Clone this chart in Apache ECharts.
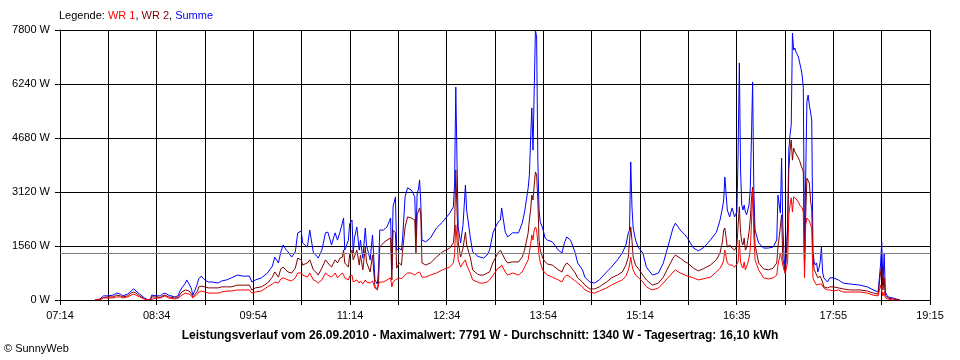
<!DOCTYPE html>
<html><head><meta charset="utf-8">
<script src="https://cdn.jsdelivr.net/npm/echarts@6/dist/echarts.min.js"></script>
<style>html,body{margin:0;padding:0;background:#fff}#c{width:960px;height:360px}</style>
</head><body><div id="c"></div>
<script>
// Sample times (HH:MM)
const times = ['07:43','07:47','07:50','07:54','07:58','08:01','08:04','08:06','08:10','08:13','08:15','08:17','08:20','08:24','08:27','08:29','08:30','08:34','08:37','08:39','08:41','08:44','08:45','08:49','08:52','08:53','08:55','08:58','08:59','09:01','09:03','09:04','09:06','09:08','09:09','09:11','09:12','09:14','09:17','09:20','09:25','09:28','09:32','09:36','09:41','09:46','09:51','09:53','09:56','10:01','10:06','10:10','10:12','10:15','10:17','10:19','10:21','10:23','10:26','10:29','10:31','10:34','10:35','10:39','10:41','10:44','10:46','10:48','10:51','10:54','10:56','10:59','11:02','11:04','11:06','11:08','11:09','11:10','11:13','11:14','11:16','11:17','11:18','11:20','11:22','11:23','11:25','11:27','11:28','11:31','11:33','11:35','11:37','11:38','11:39','11:42','11:45','11:48','11:49','11:50','11:52','11:53','11:55','11:57','11:58','12:00','12:02','12:05','12:06','12:08','12:09','12:10','12:11','12:12','12:13','12:14','12:17','12:21','12:26','12:31','12:37','12:40','12:41','12:42','12:43','12:44','12:46','12:48','12:50','12:51','12:54','12:56','13:00','13:02','13:05','13:08','13:10','13:13','13:17','13:19','13:20','13:23','13:25','13:29','13:34','13:37','13:39','13:42','13:43','13:44','13:45','13:46','13:47','13:48','13:49','13:50','13:51','13:52','13:54','13:56','13:58','14:02','14:07','14:10','14:12','14:14','14:17','14:18','14:21','14:23','14:27','14:29','14:33','14:37','14:41','14:43','14:47','14:51','14:56','15:00','15:03','15:05','15:06','15:07','15:08','15:09','15:11','15:13','15:17','15:20','15:23','15:25','15:30','15:34','15:37','15:40','15:42','15:44','15:48','15:52','15:54','15:59','16:03','16:07','16:13','16:18','16:21','16:23','16:24','16:25','16:27','16:29','16:31','16:33','16:34','16:35','16:36','16:37','16:38','16:39','16:40','16:41','16:42','16:43','16:44','16:45','16:46','16:47','16:48','16:49','16:50','16:53','16:57','17:01','17:05','17:08','17:09','17:11','17:12','17:13','17:14','17:15','17:16','17:17','17:18','17:19','17:20','17:21','17:22','17:23','17:24','17:25','17:26','17:27','17:28','17:29','17:30','17:31','17:32','17:33','17:34','17:35','17:36','17:37','17:38','17:39','17:40','17:41','17:42','17:43','17:44','17:45','17:46','17:47','17:50','17:52','17:55','17:59','18:03','18:09','18:17','18:23','18:28','18:32','18:34','18:35','18:36','18:37','18:38','18:40','18:44','18:50'];
// Summe (W)
const summe = [0,30,120,120,140,200,170,120,170,260,320,260,170,60,0,30,140,120,120,170,200,140,90,90,120,230,350,490,580,460,320,140,290,490,610,690,640,580,520,520,490,550,580,640,720,690,690,520,580,640,780,980,1240,1070,1390,1590,1470,1390,1240,1390,1940,1990,1650,1530,2020,1360,1300,1210,1440,1940,1960,1590,1940,1730,1960,2220,2370,1440,1730,2200,2310,1360,1790,2110,1440,1730,1210,2080,1590,1160,1880,580,460,870,2020,2020,2110,2370,870,2690,2980,1440,1500,1440,1820,2980,3240,3180,3120,2980,1820,3090,3180,3470,2800,1730,1680,1790,2080,2250,2510,2690,3320,6150,4040,2110,1650,2170,3320,2600,1820,1390,1270,1240,1210,1300,1440,1960,2250,2310,2660,1960,1820,1940,1940,2220,2540,3240,3610,4620,5550,4330,6070,7791,7600,4040,2600,2250,2080,1790,1730,1680,1440,1360,1650,1820,1730,1650,1360,1070,870,660,520,490,580,660,810,950,1160,1360,1590,1940,2020,3990,2690,2080,1730,1530,1360,950,810,720,780,1070,1440,1820,2080,2220,2020,1880,1790,1500,1420,1500,1730,1960,2310,2660,2890,3550,2600,2400,2660,2400,2480,2540,4330,6850,3760,2740,2600,2740,2540,2460,2600,2740,3180,4620,6300,3180,2020,1650,1500,1500,1530,1730,3030,2510,4100,2170,1300,840,1440,2170,4330,4770,5060,7710,7220,7280,7160,7140,7020,6850,6700,6500,6150,1390,3610,5720,5920,5630,5430,5200,1390,1100,1010,1070,810,920,1100,1530,810,640,520,640,640,580,490,460,430,380,290,230,1010,1680,430,1360,230,90,60,0];
// WR 2 (W)
const wr2 = [0,10,70,90,90,140,120,90,120,200,230,200,120,30,0,10,90,90,70,120,140,90,60,60,60,140,230,290,290,260,170,90,170,260,380,400,380,380,350,350,350,380,380,380,430,430,430,290,350,380,490,660,810,660,900,950,870,810,780,920,1210,1160,1010,1070,1160,870,810,720,920,1160,1070,950,1160,1070,1210,1240,1440,1070,950,1300,1440,1160,1210,1440,1010,1300,870,1530,1100,810,1300,380,320,520,1530,1650,1730,1790,580,2020,1940,920,1070,1010,1440,2110,2400,2370,2370,2310,1360,2460,2510,2660,2460,1070,1010,1070,1240,1390,1500,1650,2020,3760,2600,1680,1240,1500,1960,1590,1240,870,750,720,720,780,810,1100,1360,1440,1440,1160,1070,1100,1100,1240,1440,1940,2310,2600,3030,2890,3320,3700,3610,2890,1730,1440,1210,1100,1040,1010,870,810,980,1070,980,920,780,640,520,430,320,320,380,430,520,640,720,810,1010,1240,1730,2110,1730,1240,1010,920,720,580,490,430,490,660,870,1070,1210,1300,1210,1100,1070,920,840,900,1010,1160,1360,1680,2020,2080,1530,1590,1500,1440,1500,1590,2170,2690,1960,1680,1590,1790,1440,1500,1730,1960,2310,2890,3260,2460,1590,1070,900,870,920,1070,1530,2110,2460,1210,1010,780,1300,2020,3760,4330,4620,4040,4390,4280,4220,4190,4100,4020,3900,3810,3700,1010,2460,3520,3550,3380,2890,2600,1210,870,810,720,640,660,690,690,520,380,350,380,380,350,320,290,290,260,200,170,780,1010,290,640,120,60,30,0];
// WR 1 (W)
const wr1 = [0,10,60,60,60,90,90,60,90,140,170,140,90,30,0,10,60,60,60,90,120,60,30,30,60,90,140,200,200,170,120,60,120,170,230,260,230,230,200,200,200,230,260,260,290,290,290,200,230,260,380,460,520,490,610,640,610,580,550,640,780,780,720,660,780,580,550,490,580,780,720,660,780,640,720,780,720,640,580,690,720,520,520,580,490,550,460,580,520,490,550,350,290,460,520,520,580,640,380,520,580,580,640,610,660,720,780,780,780,720,690,780,810,810,780,660,660,720,780,870,950,1070,1300,2170,1730,1160,950,1070,1160,1010,780,580,520,490,490,520,580,720,920,950,1010,810,720,780,720,810,950,1160,1390,1590,1880,1730,2020,2110,2020,1650,1300,1100,870,780,720,660,580,520,660,720,660,640,550,490,380,290,230,200,260,290,350,430,520,580,690,870,1010,1240,1010,870,720,660,520,380,320,290,350,490,610,720,810,870,780,720,690,640,580,610,660,810,920,1040,1160,1440,1070,1010,1010,950,980,1040,1100,1730,1100,980,920,1100,870,920,1070,1210,1440,2170,3180,1880,1160,870,640,610,640,720,1010,1360,1390,1010,870,760,920,1100,2460,2740,2950,2540,2980,2950,2920,2890,2830,2740,2720,2660,2540,640,2170,2370,2370,2280,2170,2080,640,550,520,430,460,460,460,460,430,350,290,290,260,290,230,230,230,200,140,120,430,400,120,230,60,30,0,0];
// Axis labels
const xTickLabels = ['07:14','08:34','09:54','11:14','12:34','13:54','15:14','16:35','17:55','19:15'];
const xStart = '07:14', xEnd = '19:15';
const xDivisions = 18;
const yMax = 7800, yStep = 1560;
const average = 1340;
const legendNames = ['WR 1', 'WR 2', 'Summe'];
const footerText = 'Leistungsverlauf vom 26.09.2010 - Maximalwert: 7791 W - Durchschnitt: 1340 W - Tagesertrag: 16,10 kWh';

function toMin(t){ const p=t.split(':'); return (+p[0])*60 + (+p[1]); }
const t0 = toMin(xStart), span = toMin(xEnd) - t0;
const xInt = span / xDivisions;
const xs = times.map(t => toMin(t) - t0);
const pair = arr => arr.map((v,i) => [xs[i], v]);

const FONT = 'Liberation Sans';
const chart = echarts.init(document.getElementById('c'), null, {renderer:'canvas'});
chart.setOption({
  animation: false,
  backgroundColor: '#fff',
  title: [
    { left: 59, top: 10, text: '{k|Legende: }{a|' + legendNames[0] + '}{k|, }{b|' + legendNames[1] + '}{k|, }{c|' + legendNames[2] + '}',
      textStyle: { fontSize: 11, fontFamily: FONT, fontWeight: 'normal',
        rich: { k:{color:'#000',fontSize:11,fontFamily:FONT}, a:{color:'#ff0000',fontSize:11,fontFamily:FONT}, b:{color:'#800000',fontSize:11,fontFamily:FONT}, c:{color:'#0000ff',fontSize:11,fontFamily:FONT} } },
      padding: 0 },
    { left: 'center', top: 330, text: footerText, padding: 0,
      textStyle: { fontSize: 12, fontWeight: 'bold', fontFamily: FONT, color: '#000' } },
    { left: 4, top: 343, text: '\u00a9 SunnyWeb', padding: 0,
      textStyle: { fontSize: 11, fontWeight: 'normal', fontFamily: FONT, color: '#000' } }
  ],
  grid: { left: 60, right: 30, top: 30, bottom: 60, containLabel: false },
  xAxis: {
    type: 'value', min: 0, max: span, interval: xInt,
    axisLine: { show: true, onZero: false, lineStyle: { color: '#000', width: 1 } },
    axisTick: { show: true, length: 5, lineStyle: { color: '#000' } },
    splitLine: { show: true, lineStyle: { color: '#000', width: 1 } },
    axisLabel: { color: '#000', fontSize: 11, fontFamily: FONT, margin: 10, showMinLabel: true, showMaxLabel: true,
      formatter: v => { const i = Math.round(v / xInt); return i % 2 === 0 ? xTickLabels[i/2] : ''; } }
  },
  yAxis: {
    type: 'value', min: 0, max: yMax, interval: yStep,
    axisLine: { show: true, lineStyle: { color: '#000', width: 1 } },
    axisTick: { show: true, length: 5, lineStyle: { color: '#000' } },
    splitLine: { show: true, lineStyle: { color: '#000', width: 1 } },
    axisLabel: { color: '#000', fontSize: 11, fontFamily: FONT, margin: 10, formatter: v => String(v) + ' W' }
  },
  series: [
    { type: 'line', data: [], silent: true,
      markLine: { silent: true, symbol: 'none', label: { show: false },
        lineStyle: { color: '#808080', width: 1, type: 'solid' }, data: [{ yAxis: average }] } },
    { name: legendNames[2], type: 'line', data: pair(summe), showSymbol: false, symbol: 'none',
      lineStyle: { color: '#0000ff', width: 1 }, itemStyle: { color: '#0000ff' } },
    { name: legendNames[1], type: 'line', data: pair(wr2), showSymbol: false, symbol: 'none',
      lineStyle: { color: '#800000', width: 1 }, itemStyle: { color: '#800000' } },
    { name: legendNames[0], type: 'line', data: pair(wr1), showSymbol: false, symbol: 'none',
      lineStyle: { color: '#ff0000', width: 1 }, itemStyle: { color: '#ff0000' } }
  ]
});
</script></body></html>
